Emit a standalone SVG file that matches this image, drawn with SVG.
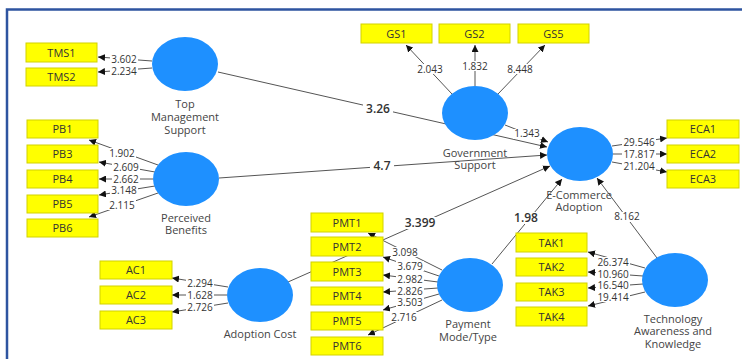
<svg xmlns="http://www.w3.org/2000/svg" width="742" height="359" viewBox="0 0 742 359">
<style>
text{font-family:"Open Sans","Noto Sans",sans-serif;fill:#333}
.box{fill:#ffff00;stroke:#d2d200;stroke-width:1}
.bt{font-size:11px;text-anchor:middle}
.ell{fill:#1e90ff}
.nl{font-size:11px;text-anchor:middle;fill:#444}
.ln{stroke:#555;stroke-width:1;fill:none;marker-end:url(#ah)}
.bg{fill:#fff}
.w{font-size:10px;text-anchor:middle}
.p{font-size:12px;font-weight:600;text-anchor:middle}
.frame{stroke:#2e54a0;stroke-width:2.5;fill:none}
</style>
<defs>
<marker id="ah" viewBox="0 0 10 10" refX="10" refY="5" markerWidth="7" markerHeight="7" markerUnits="userSpaceOnUse" orient="auto">
<path d="M0,0 L10,5 L0,10 z" fill="#111"/>
</marker>
</defs>
<rect width="742" height="359" fill="#fff"/>
<path class="frame" d="M7,359 L7,9.5 L742,9.5"/>

<g id="connectors">
<!-- structural paths -->
<line class="ln" x1="218" y1="72" x2="547" y2="147"/>
<line class="ln" x1="505" y1="125" x2="548" y2="142"/>
<line class="ln" x1="219" y1="178" x2="547" y2="155"/>
<line class="ln" x1="288" y1="282" x2="550" y2="166"/>
<line class="ln" x1="492" y1="264" x2="562" y2="179"/>
<line class="ln" x1="657" y1="258" x2="597" y2="178"/>
<!-- TMS -->
<line class="ln" x1="152" y1="61" x2="98" y2="57"/>
<line class="ln" x1="152" y1="68" x2="98" y2="72"/>
<!-- PB -->
<line class="ln" x1="158" y1="165" x2="89" y2="140"/>
<line class="ln" x1="155" y1="172" x2="99" y2="162"/>
<line class="ln" x1="153" y1="179" x2="99" y2="179"/>
<line class="ln" x1="155" y1="186" x2="99" y2="195"/>
<line class="ln" x1="158" y1="193" x2="89" y2="217"/>
<!-- GS -->
<line class="ln" x1="452" y1="94" x2="406" y2="45"/>
<line class="ln" x1="475" y1="86" x2="475" y2="45"/>
<line class="ln" x1="498" y1="94" x2="545" y2="45"/>
<!-- ECA -->
<line class="ln" x1="612" y1="146" x2="667" y2="138"/>
<line class="ln" x1="613" y1="154" x2="667" y2="154"/>
<line class="ln" x1="612" y1="162" x2="667" y2="172"/>
<!-- AC -->
<line class="ln" x1="228" y1="287" x2="172" y2="278"/>
<line class="ln" x1="227" y1="295" x2="172" y2="295"/>
<line class="ln" x1="228" y1="303" x2="172" y2="312"/>
<!-- PMT -->
<line class="ln" x1="442" y1="270" x2="368" y2="233"/>
<line class="ln" x1="439" y1="276" x2="383" y2="257"/>
<line class="ln" x1="438" y1="282" x2="383" y2="275"/>
<line class="ln" x1="438" y1="288" x2="383" y2="292"/>
<line class="ln" x1="439" y1="294" x2="383" y2="310"/>
<line class="ln" x1="442" y1="300" x2="368" y2="335"/>
<!-- TAK -->
<line class="ln" x1="645" y1="268" x2="588" y2="252"/>
<line class="ln" x1="643" y1="276" x2="588" y2="272"/>
<line class="ln" x1="643" y1="284" x2="588" y2="288"/>
<line class="ln" x1="645" y1="292" x2="588" y2="306"/>
<!-- label backgrounds -->
<g class="bg">
<rect x="363" y="103" width="30" height="12"/>
<rect x="513" y="129" width="28" height="10"/>
<rect x="370" y="160" width="24" height="12"/>
<rect x="403" y="217" width="34" height="12"/>
<rect x="512" y="212" width="28" height="12"/>
<rect x="613" y="212" width="28" height="10"/>
<rect x="110" y="54" width="28" height="10"/>
<rect x="110" y="66" width="28" height="10"/>
<rect x="108" y="148" width="28" height="10"/>
<rect x="112" y="162" width="28" height="10"/>
<rect x="112" y="174" width="28" height="10"/>
<rect x="110" y="185" width="28" height="10"/>
<rect x="108" y="200" width="28" height="10"/>
<rect x="416" y="64" width="28" height="10"/>
<rect x="461" y="61" width="28" height="10"/>
<rect x="506" y="64" width="28" height="10"/>
<rect x="622" y="137" width="34" height="10"/>
<rect x="622" y="149" width="34" height="10"/>
<rect x="622" y="161" width="34" height="10"/>
<rect x="186" y="278" width="28" height="10"/>
<rect x="186" y="290" width="28" height="10"/>
<rect x="186" y="302" width="28" height="10"/>
<rect x="391" y="247" width="28" height="10"/>
<rect x="396" y="261" width="28" height="10"/>
<rect x="396" y="274" width="28" height="10"/>
<rect x="396" y="286" width="28" height="10"/>
<rect x="396" y="297" width="28" height="10"/>
<rect x="390" y="312" width="28" height="10"/>
<rect x="596" y="257" width="34" height="10"/>
<rect x="596" y="269" width="34" height="10"/>
<rect x="596" y="280" width="34" height="10"/>
<rect x="596" y="292" width="34" height="10"/>
</g>
<!-- labels -->
<text class="p" x="378" y="113">3.26</text>
<text class="w" x="527" y="137">1.343</text>
<text class="p" x="382" y="170">4.7</text>
<text class="p" x="420" y="227">3.399</text>
<text class="p" x="526" y="222">1.98</text>
<text class="w" x="627" y="220">8.162</text>
<text class="w" x="124" y="62.5">3.602</text>
<text class="w" x="124" y="74.5">2.234</text>
<text class="w" x="122" y="156.5">1.902</text>
<text class="w" x="126" y="170.5">2.609</text>
<text class="w" x="126" y="182.5">2.662</text>
<text class="w" x="124" y="193.5">3.148</text>
<text class="w" x="122" y="208.5">2.115</text>
<text class="w" x="430" y="72.5">2.043</text>
<text class="w" x="475" y="69.5">1.832</text>
<text class="w" x="520" y="72.5">8.448</text>
<text class="w" x="639" y="145.5">29.546</text>
<text class="w" x="639" y="157.5">17.817</text>
<text class="w" x="639" y="169.5">21.204</text>
<text class="w" x="200" y="286.5">2.294</text>
<text class="w" x="200" y="298.5">1.628</text>
<text class="w" x="200" y="310.5">2.726</text>
<text class="w" x="405" y="255.5">3.098</text>
<text class="w" x="410" y="269.5">3.679</text>
<text class="w" x="410" y="282.5">2.982</text>
<text class="w" x="410" y="294.5">2.826</text>
<text class="w" x="410" y="305.5">3.503</text>
<text class="w" x="404" y="320.5">2.716</text>
<text class="w" x="613" y="265.5">26.374</text>
<text class="w" x="613" y="277.5">10.960</text>
<text class="w" x="613" y="288.5">16.540</text>
<text class="w" x="613" y="300.5">19.414</text>
</g>

<g id="TMS"><ellipse class="ell" cx="185" cy="64" rx="33" ry="27"/>
<text class="nl" x="185" y="108">Top</text><text class="nl" x="185" y="121">Management</text><text class="nl" x="185" y="134">Support</text></g>
<g id="PB"><ellipse class="ell" cx="186" cy="179" rx="33" ry="27"/>
<text class="nl" x="186" y="222">Perceived</text><text class="nl" x="186" y="234">Benefits</text></g>
<g id="GS"><ellipse class="ell" cx="475" cy="113" rx="33" ry="27"/>
<text class="nl" x="475" y="157">Government</text><text class="nl" x="475" y="169">Support</text></g>
<g id="ECA"><ellipse class="ell" cx="580" cy="154" rx="33" ry="27"/>
<text class="nl" x="579" y="199">E-Commerce</text><text class="nl" x="579" y="211">Adoption</text></g>
<g id="AC"><ellipse class="ell" cx="260" cy="295" rx="33" ry="27"/>
<text class="nl" x="260" y="338">Adoption Cost</text></g>
<g id="PMT"><ellipse class="ell" cx="470" cy="285" rx="33" ry="27"/>
<text class="nl" x="468" y="328">Payment</text><text class="nl" x="468" y="341">Mode/Type</text></g>
<g id="TAK"><ellipse class="ell" cx="675" cy="280" rx="33" ry="27"/>
<text class="nl" x="673" y="323">Technology</text><text class="nl" x="673" y="335">Awareness and</text><text class="nl" x="673" y="348">Knowledge</text></g>

<g id="TMS1"><rect class="box" x="26" y="43" width="71" height="19"/><text class="bt" x="61.5" y="56.5">TMS1</text></g>
<g id="TMS2"><rect class="box" x="26" y="68" width="71" height="18"/><text class="bt" x="61.5" y="81">TMS2</text></g>
<g id="PB1"><rect class="box" x="27" y="120" width="71" height="18"/><text class="bt" x="62.5" y="133">PB1</text></g>
<g id="PB3"><rect class="box" x="27" y="145" width="71" height="18"/><text class="bt" x="62.5" y="158">PB3</text></g>
<g id="PB4"><rect class="box" x="27" y="170" width="71" height="18"/><text class="bt" x="62.5" y="183">PB4</text></g>
<g id="PB5"><rect class="box" x="27" y="195" width="71" height="18"/><text class="bt" x="62.5" y="208">PB5</text></g>
<g id="PB6"><rect class="box" x="27" y="219" width="71" height="18"/><text class="bt" x="62.5" y="232">PB6</text></g>
<g id="GS1"><rect class="box" x="361" y="24" width="71" height="19"/><text class="bt" x="396.5" y="37.5">GS1</text></g>
<g id="GS2"><rect class="box" x="439" y="24" width="71" height="19"/><text class="bt" x="474.5" y="37.5">GS2</text></g>
<g id="GS5"><rect class="box" x="518" y="24" width="71" height="19"/><text class="bt" x="553.5" y="37.5">GS5</text></g>
<g id="ECA1"><rect class="box" x="667" y="120" width="72" height="18"/><text class="bt" x="703" y="133">ECA1</text></g>
<g id="ECA2"><rect class="box" x="667" y="145" width="72" height="18"/><text class="bt" x="703" y="158">ECA2</text></g>
<g id="ECA3"><rect class="box" x="667" y="170" width="72" height="18"/><text class="bt" x="703" y="183">ECA3</text></g>
<g id="AC1"><rect class="box" x="100" y="261" width="72" height="18"/><text class="bt" x="136" y="274">AC1</text></g>
<g id="AC2"><rect class="box" x="100" y="286" width="72" height="18"/><text class="bt" x="136" y="299">AC2</text></g>
<g id="AC3"><rect class="box" x="100" y="311" width="72" height="18"/><text class="bt" x="136" y="324">AC3</text></g>
<g id="PMT1"><rect class="box" x="311" y="213" width="72" height="19"/><text class="bt" x="347" y="226.5">PMT1</text></g>
<g id="PMT2"><rect class="box" x="311" y="237" width="72" height="19"/><text class="bt" x="347" y="250.5">PMT2</text></g>
<g id="PMT3"><rect class="box" x="311" y="262" width="72" height="19"/><text class="bt" x="347" y="275.5">PMT3</text></g>
<g id="PMT4"><rect class="box" x="311" y="287" width="72" height="18"/><text class="bt" x="347" y="300">PMT4</text></g>
<g id="PMT5"><rect class="box" x="311" y="312" width="72" height="18"/><text class="bt" x="347" y="325">PMT5</text></g>
<g id="PMT6"><rect class="box" x="311" y="337" width="72" height="18"/><text class="bt" x="347" y="350">PMT6</text></g>
<g id="TAK1"><rect class="box" x="516" y="233" width="71" height="19"/><text class="bt" x="551.5" y="246.5">TAK1</text></g>
<g id="TAK2"><rect class="box" x="516" y="258" width="71" height="18"/><text class="bt" x="551.5" y="271">TAK2</text></g>
<g id="TAK3"><rect class="box" x="516" y="283" width="71" height="18"/><text class="bt" x="551.5" y="296">TAK3</text></g>
<g id="TAK4"><rect class="box" x="516" y="307" width="71" height="19"/><text class="bt" x="551.5" y="320.5">TAK4</text></g>
</svg>
